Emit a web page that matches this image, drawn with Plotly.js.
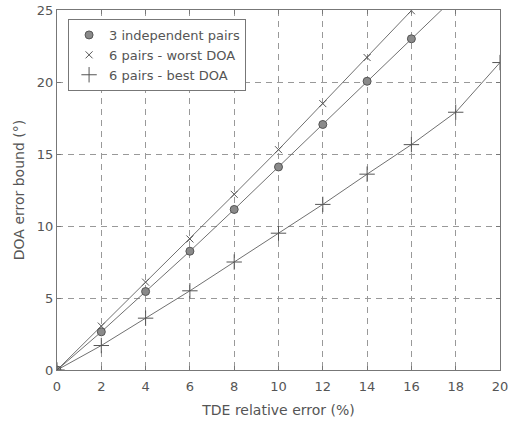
<!DOCTYPE html>
<html><head><meta charset="utf-8">
<script src="https://cdn.plot.ly/plotly-3.0.1.min.js"></script>
<style>html,body{margin:0;padding:0;background:#fff}#c{width:509px;height:422px}</style>
</head><body><div id="c"></div>
<script>
const xVals = [0, 2, 4, 6, 8, 10, 12, 14, 16, 18, 20];
const indepPairs = [0, 2.65, 5.45, 8.25, 11.15, 14.1, 17.05, 20.05, 23.0, 25.95, 28.9];
const worstDOA = [0, 3.05, 6.1, 9.1, 12.2, 15.3, 18.5, 21.7, 24.95, 28.2, 31.4];
const bestDOA = [0, 1.7, 3.6, 5.5, 7.5, 9.5, 11.5, 13.6, 15.65, 17.9, 21.35];
const seriesNames = ['3 independent pairs', '6 pairs - worst DOA', '6 pairs - best DOA'];
const xTicks = [0, 2, 4, 6, 8, 10, 12, 14, 16, 18, 20];
const yTicks = [0, 5, 10, 15, 20, 25];

const lineCol = '#606060';
const font = {family: 'DejaVu Sans', size: 13, color: '#555'};
function lineTrace(y) {
  return {x: xVals, y: y, mode: 'lines', line: {color: lineCol, width: 0.9}, showlegend: false, hoverinfo: 'skip'};
}
const traces = [
  lineTrace(indepPairs), lineTrace(worstDOA), lineTrace(bestDOA),
  {x: xVals, y: indepPairs, mode: 'markers', name: seriesNames[0],
   marker: {symbol: 'circle', size: 8, color: '#8a8a8a', line: {color: '#555', width: 1}}},
  {x: xVals, y: worstDOA, mode: 'markers', name: seriesNames[1],
   marker: {symbol: 'x-thin', size: 7, color: '#555', line: {color: '#555', width: 1}}},
  {x: xVals, y: bestDOA, mode: 'markers', name: seriesNames[2],
   marker: {symbol: 'cross-thin', size: 11, color: '#555', line: {color: '#555', width: 1}}}
];
const axisCommon = {
  showline: true, linecolor: '#777', linewidth: 1, mirror: 'ticks',
  ticks: 'inside', ticklen: 4, tickcolor: '#777',
  showgrid: true, gridcolor: '#999', griddash: '6px,5px', gridwidth: 1,
  zeroline: false, tickfont: {family: 'DejaVu Sans', size: 13, color: '#555'}
};
const layout = {
  width: 509, height: 422,
  margin: {l: 57, r: 9, t: 10, b: 52},
  paper_bgcolor: '#fff', plot_bgcolor: '#fff',
  font: font,
  xaxis: Object.assign({}, axisCommon, {range: [0, 20], tickvals: xTicks, ticklabelstandoff: 4,
    title: {text: 'TDE relative error (%)', font: {family: 'DejaVu Sans', size: 14, color: '#555'}, standoff: 12}}),
  yaxis: Object.assign({}, axisCommon, {range: [0, 25], tickvals: yTicks,
    title: {text: 'DOA error bound (°)', font: {family: 'DejaVu Sans', size: 14, color: '#555'}, standoff: 8}}),
  legend: {x: 0.025, y: 0.975, xanchor: 'left', yanchor: 'top', bgcolor: '#fff',
    bordercolor: '#777', borderwidth: 1, font: {family: 'DejaVu Sans', size: 13, color: '#555'},
    tracegroupgap: 0, itemwidth: 30}
};
Plotly.newPlot('c', traces, layout, {displayModeBar: false, staticPlot: true});
</script>
</body></html>
